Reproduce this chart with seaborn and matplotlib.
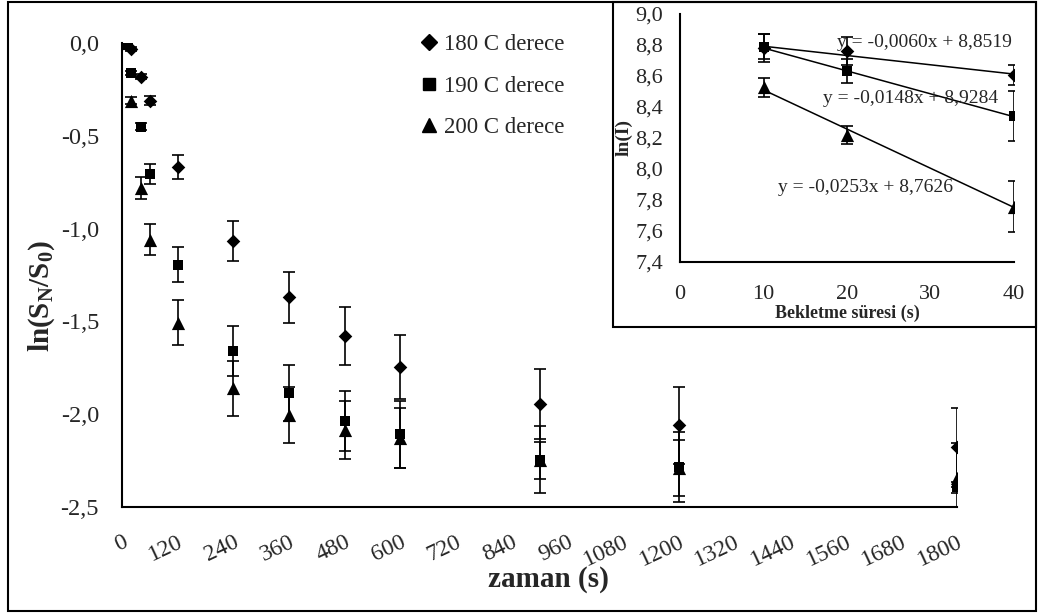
import matplotlib
matplotlib.use("Agg")
from matplotlib import pyplot as plt
from matplotlib.patches import Rectangle
from matplotlib.lines import Line2D
from matplotlib.ticker import MultipleLocator, FuncFormatter
import seaborn as sns
import pandas as pd
import numpy as np

# ana grafik verileri (zaman, ln(SN/S0), hata)
t_180 = [20, 40, 60, 120, 240, 360, 480, 600, 900, 1200, 1800]
y_180 = [-0.03, -0.18, -0.31, -0.665, -1.065, -1.37, -1.58, -1.745, -1.945, -2.06, -2.18]
e_180 = [0.01, 0.015, 0.025, 0.065, 0.107, 0.137, 0.158, 0.173, 0.19, 0.207, 0.215]

t_190 = [10, 20, 40, 60, 120, 240, 360, 480, 600, 900, 1200, 1800]
y_190 = [0.0, -0.16, -0.45, -0.705, -1.195, -1.658, -1.885, -2.038, -2.11, -2.247, -2.287, -2.395]
e_190 = [0.005, 0.01, 0.02, 0.055, 0.095, 0.135, 0.15, 0.16, 0.18, 0.18, 0.19, 0.03]

t_200 = [10, 20, 40, 60, 120, 240, 360, 480, 600, 900, 1200, 1800]
y_200 = [0.0, -0.31, -0.779, -1.06, -1.507, -1.861, -2.005, -2.086, -2.13, -2.25, -2.29, -2.347]
e_200 = [0.005, 0.02, 0.06, 0.083, 0.12, 0.148, 0.15, 0.155, 0.16, 0.10, 0.15, 0.19]

labels = ["180 C derece", "190 C derece", "200 C derece"]

# küçük grafik verileri
sure = [10, 20, 40]
ln_180 = [8.78, 8.763, 8.606]
ln_190 = [8.79, 8.632, 8.341]
ln_200 = [8.526, 8.218, 7.755]
le_180 = [0.09, 0.09, 0.065]
le_190 = [0.08, 0.077, 0.16]
le_200 = [0.06, 0.06, 0.165]
egim = [-0.0060, -0.0148, -0.0253]
kesim = [8.8519, 8.9284, 8.7626]
denklem = ["y = -0,0060x + 8,8519", "y = -0,0148x + 8,9284", "y = -0,0253x + 8,7626"]

markers = ["D", "s", "^"]
msize = [48, 62, 90]

sns.set_style("white")
plt.rcParams['font.family'] = ['Liberation Serif', 'DejaVu Serif']
plt.rcParams['mathtext.fontset'] = 'custom'
plt.rcParams['mathtext.rm'] = 'Liberation Serif'
plt.rcParams['mathtext.bf'] = 'Liberation Serif:bold'
plt.rcParams['mathtext.it'] = 'Liberation Serif:italic'
plt.rcParams['axes.unicode_minus'] = False

W, H = 1039, 615
fig = plt.figure(figsize=(W / 100, H / 100), dpi=100)
fig.patch.set_facecolor("white")

comma = FuncFormatter(lambda v, p: ("%.1f" % v).replace(".", ","))
comma0 = FuncFormatter(lambda v, p: "%d" % v)

# ---- ana grafik
ax = fig.add_axes([122 / W, 1 - 506.7 / H, (957 - 122) / W, (506.7 - 43.3) / H])
ax.patch.set_alpha(0)
main = [(t_180, y_180, e_180), (t_190, y_190, e_190), (t_200, y_200, e_200)]
for (t, y, e), m, s in zip(main, markers, msize):
    ax.errorbar(t, y, yerr=e, fmt="none", ecolor="black", elinewidth=1.2,
                capsize=4.6, capthick=1.2, zorder=2)
    sns.scatterplot(x=t, y=y, marker=m, s=s, color="black", edgecolor="black",
                    linewidth=0, ax=ax, zorder=3)

ax.set_xlim(0, 1800)
ax.set_ylim(-2.5, 0.0)
ax.xaxis.set_major_locator(MultipleLocator(120))
ax.xaxis.set_minor_locator(MultipleLocator(24))
ax.yaxis.set_major_locator(MultipleLocator(0.5))
ax.yaxis.set_minor_locator(MultipleLocator(0.1))
ax.yaxis.set_major_formatter(comma)
ax.xaxis.set_major_formatter(comma0)
for sp in ["top", "right"]:
    ax.spines[sp].set_visible(False)
for sp in ["left", "bottom"]:
    ax.spines[sp].set_linewidth(1.5)
    ax.spines[sp].set_color("black")
ax.tick_params(axis="x", which="major", direction="inout", length=10, width=1.3,
               labelsize=17, pad=13, color="black")
ax.tick_params(axis="x", which="minor", direction="out", length=4, width=1.3, color="black")
ax.tick_params(axis="y", which="major", direction="out", length=5, width=1.3,
               labelsize=17.5, pad=11.5, color="black")
ax.tick_params(axis="y", which="minor", direction="out", length=3.5, width=1.3, color="black")
plt.setp(ax.get_xticklabels(), rotation=25, ha="right", rotation_mode="anchor")
ax.set_xlabel("zaman (s)", fontsize=21, fontweight="bold")
ax.xaxis.set_label_coords(0.511, -0.128)
ax.set_ylabel(r"$\mathbf{ln(S_N/S_0)}$", fontsize=21)
ax.yaxis.set_label_coords(-0.078, 0.455)

handles = [Line2D([], [], marker=m, color="black", linestyle="none",
                  markersize=ms) for m, ms in zip(markers, [8, 8.5, 10])]
fig.legend(handles, labels, loc="upper left", bbox_to_anchor=(422 / W, 1 - 34 / H),
           frameon=False, fontsize=16.5, handlelength=0.6, handletextpad=0.35,
           labelspacing=0.9, borderpad=0, borderaxespad=0)

# ---- çerçeveler
fig.patches.append(Rectangle((8 / W, 1 - 611 / H), 1028 / W, 609 / H, transform=fig.transFigure,
                             fill=False, edgecolor="black", linewidth=1.5, zorder=5))
fig.patches.append(Rectangle((613 / W, 1 - 327 / H), 423 / W, 325 / H, transform=fig.transFigure,
                             facecolor="white", edgecolor="black", linewidth=1.5, zorder=1))

# ---- küçük grafik
ax2 = fig.add_axes([680 / W, 1 - 261.7 / H, (1014 - 680) / W, (261.7 - 14) / H], zorder=2)
ax2.patch.set_alpha(0)
inset = [(ln_180, le_180), (ln_190, le_190), (ln_200, le_200)]
xs = np.array([min(sure), max(sure)])
for (v, e), m, s, a, b in zip(inset, markers, msize, egim, kesim):
    ax2.plot(xs, a * xs + b, color="black", linewidth=1.1, zorder=1)
    ax2.errorbar(sure, v, yerr=e, fmt="none", ecolor="black", elinewidth=1.2,
                 capsize=4.6, capthick=1.2, zorder=2)
    sns.scatterplot(x=sure, y=v, marker=m, s=s, color="black", edgecolor="black",
                    linewidth=0, ax=ax2, zorder=3)
ax2.set_xlim(0, 40)
ax2.set_ylim(7.4, 9.0)
ax2.xaxis.set_major_locator(MultipleLocator(10))
ax2.xaxis.set_minor_locator(MultipleLocator(2))
ax2.yaxis.set_major_locator(MultipleLocator(0.2))
ax2.yaxis.set_minor_locator(MultipleLocator(0.04))
ax2.yaxis.set_major_formatter(comma)
ax2.xaxis.set_major_formatter(comma0)
for sp in ["top", "right"]:
    ax2.spines[sp].set_visible(False)
for sp in ["left", "bottom"]:
    ax2.spines[sp].set_linewidth(1.5)
    ax2.spines[sp].set_color("black")
ax2.tick_params(axis="x", which="major", direction="inout", length=8, width=1.3,
                labelsize=16, pad=13, color="black")
ax2.tick_params(axis="x", which="minor", direction="out", length=3, width=1.3, color="black")
ax2.tick_params(axis="y", which="major", direction="out", length=4, width=1.3,
                labelsize=16, pad=8, color="black")
ax2.tick_params(axis="y", which="minor", direction="out", length=2.5, width=1.3, color="black")
ax2.set_xlabel("Bekletme süresi (s)", fontsize=13, fontweight="bold", labelpad=0.5)
ax2.set_ylabel("ln(I)", fontsize=14, fontweight="bold")
ax2.yaxis.set_label_coords(-0.141, 0.5)
for txt, (x, y) in zip(denklem, [(18.8, 8.813), (17.1, 8.457), (11.7, 7.882)]):
    ax2.text(x, y, txt, fontsize=14, ha="left", va="center", zorder=4)

fig.savefig("out.png", dpi=100, facecolor="white")
